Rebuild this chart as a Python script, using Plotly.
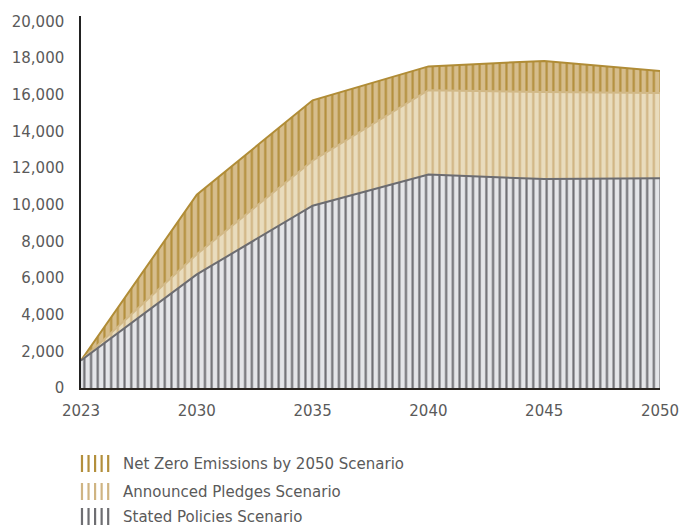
import plotly.graph_objects as go

# Scenario data (thousands of units shown as plain numbers)
years = ["2023", "2030", "2035", "2040", "2045", "2050"]
nze = [1500, 10550, 15700, 17550, 17850, 17300]
aps = [1500, 7300, 12400, 16250, 16150, 16100]
steps = [1500, 6200, 9950, 11650, 11400, 11450]

series_names = [
    "Net Zero Emissions by 2050 Scenario",
    "Announced Pledges Scenario",
    "Stated Policies Scenario",
]
line_colors = ["#b08c36", "#d2b987", "#6c6c70"]
stripe_colors = ["#b38f3c", "#cfb482", "#6e6e72"]
fill_colors = ["#d6bd8c", "#e9dcbd", "#e4e5e8"]

W, H = 691, 526
L, R, T, B = 78, 21, 16, 138
plot_w = W - L - R
plot_h = H - T - B

fig = go.Figure()
for name, vals, lc, sc, fc in zip(series_names, [nze, aps, steps],
                                  line_colors, stripe_colors, fill_colors):
    fig.add_trace(go.Scatter(
        x=years, y=vals, name=name, mode="lines",
        line=dict(color=lc, width=2),
        fill="tozeroy", fillcolor=fc,
        fillpattern=dict(shape="|", fgcolor=sc, bgcolor=fc,
                         size=6.7, solidity=0.32, fillmode="replace"),
        showlegend=False, hoverinfo="skip",
    ))

font_family = "DejaVu Sans, sans-serif"
text_color = "#5a5a5a"

fig.update_layout(
    width=W, height=H,
    margin=dict(l=L, r=R, t=T, b=B),
    plot_bgcolor="white", paper_bgcolor="white",
    font=dict(family=font_family, size=15, color=text_color),
    showlegend=False,
    xaxis=dict(
        type="category", range=[0, 5], showgrid=False, zeroline=False,
        showline=True, linecolor="#2a2520", linewidth=2,
        ticks="", ticklabelstandoff=8,
        tickfont=dict(size=15, color=text_color),
    ),
    yaxis=dict(
        range=[0, 20300], tickvals=list(range(0, 20001, 2000)),
        tickformat=",d", showgrid=False, zeroline=False,
        showline=True, linecolor="#222222", linewidth=1.5,
        ticks="", ticklabelstandoff=12,
        tickfont=dict(size=15, color=text_color),
    ),
)

# Custom legend: five vertical stripes followed by the scenario name
def px_to_paper_x(px):
    return (px - L) / plot_w

def px_to_paper_y(py):
    return (H - B - py) / plot_h

legend_rows = [464, 492, 517]
stripe_x = [79, 85.7, 92.4, 99.1, 105.8]
for row_y, name, sc in zip(legend_rows, series_names, stripe_colors):
    for sx in stripe_x:
        fig.add_shape(
            type="line", xref="paper", yref="paper",
            x0=px_to_paper_x(sx), x1=px_to_paper_x(sx),
            y0=px_to_paper_y(row_y - 9), y1=px_to_paper_y(row_y + 8),
            line=dict(color=sc, width=2.2),
        )
    fig.add_annotation(
        xref="paper", yref="paper",
        x=px_to_paper_x(119), y=px_to_paper_y(row_y),
        xanchor="left", yanchor="middle", showarrow=False,
        text=name, font=dict(size=15, color=text_color, family=font_family),
    )

fig.write_html("out.html")
